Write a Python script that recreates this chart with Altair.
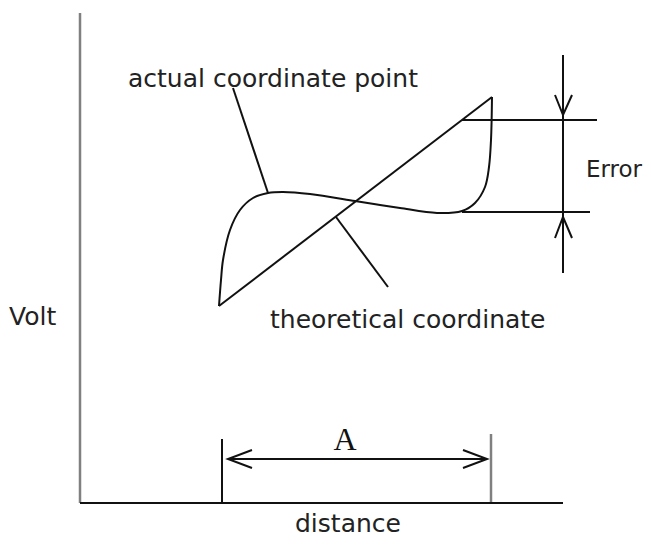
import altair as alt
import pandas as pd

# ---- data (diagram units: distance / volt) ----
# actual coordinate curve
curve_x = [13.9, 14.1, 14.3, 15.0, 16.0, 17.3, 18.8, 20.3, 23.0, 27.5, 30.0, 32.0, 35.7, 38.2, 39.5, 40.5, 40.9, 41.1, 41.2]
curve_y = [19.7, 22.3, 24.3, 27.3, 29.3, 30.5, 31.0, 31.1, 30.9, 30.2, 29.8, 29.5, 29.0, 29.2, 30.0, 31.6, 33.6, 36.3, 40.6]

# theoretical coordinate (straight line)
theory_x = [13.9, 41.2]
theory_y = [19.7, 40.6]

# black segments: x1, y1, x2, y2
seg_x1 = [0.0, 14.2, 14.8, 15.3, 25.6, 38.2, 38.2, 48.3]
seg_y1 = [0.0, 0.0, 4.4, 41.5, 28.6, 38.3, 29.1, 44.8]
seg_x2 = [48.3, 14.2, 40.7, 18.8, 30.8, 51.7, 51.0, 48.3]
seg_y2 = [0.0, 6.4, 4.4, 31.0, 21.6, 38.3, 29.1, 23.0]

# grey segments (volt axis, right tick)
grey_x1 = [0.0, 41.1]
grey_y1 = [0.0, 0.0]
grey_x2 = [0.0, 41.1]
grey_y2 = [49.0, 6.9]

# arrowheads: wing - apex - wing
head_id = [0, 0, 0, 1, 1, 1, 2, 2, 2, 3, 3, 3]
head_ord = [0, 1, 2] * 4
head_x = [17.2, 14.8, 17.2, 38.3, 40.7, 38.3, 47.5, 48.3, 49.2, 47.5, 48.3, 49.2]
head_y = [5.3, 4.4, 3.5, 5.3, 4.4, 3.5, 40.8, 38.8, 40.8, 26.5, 28.6, 26.5]

# labels
label_text = ["actual coordinate point", "theoretical coordinate", "Volt", "distance"]
label_x = [4.8, 19.0, -7.1, 21.5]
label_y = [41.6, 17.5, 17.8, -2.9]
err_label = ["Error"]
err_x = [50.6]
err_y = [32.6]
a_label = ["A"]
a_x = [26.5]
a_y = [5.3]

# ---- build ----
xs = alt.Scale(domain=[-7.2, 56.3], nice=False, zero=False)
ys = alt.Scale(domain=[-3.5, 49.5], nice=False, zero=False)

def X(f):
    return alt.X(f, type="quantitative", scale=xs, axis=None)

def Y(f):
    return alt.Y(f, type="quantitative", scale=ys, axis=None)

curve_df = pd.DataFrame({"x": curve_x, "y": curve_y, "o": list(range(len(curve_x)))})
theory_df = pd.DataFrame({"x": [theory_x[0]], "y": [theory_y[0]], "x2": [theory_x[1]], "y2": [theory_y[1]]})
seg_df = pd.DataFrame({"x": seg_x1, "y": seg_y1, "x2": seg_x2, "y2": seg_y2})
grey_df = pd.DataFrame({"x": grey_x1, "y": grey_y1, "x2": grey_x2, "y2": grey_y2})
head_df = pd.DataFrame({"id": head_id, "o": head_ord, "x": head_x, "y": head_y})
label_df = pd.DataFrame({"t": label_text, "x": label_x, "y": label_y})
err_df = pd.DataFrame({"t": err_label, "x": err_x, "y": err_y})
a_df = pd.DataFrame({"t": a_label, "x": a_x, "y": a_y})

curve = alt.Chart(curve_df).mark_line(color="#111", strokeWidth=2, interpolate="catmull-rom").encode(
    x=X("x"), y=Y("y"), order="o:Q")
theory = alt.Chart(theory_df).mark_rule(color="#111", strokeWidth=2).encode(
    x=X("x"), y=Y("y"), x2="x2", y2="y2")
segs = alt.Chart(seg_df).mark_rule(color="#111", strokeWidth=2).encode(
    x=X("x"), y=Y("y"), x2="x2", y2="y2")
greys = alt.Chart(grey_df).mark_rule(color="#808080", strokeWidth=2.5).encode(
    x=X("x"), y=Y("y"), x2="x2", y2="y2")
heads = alt.Chart(head_df).mark_line(color="#111", strokeWidth=2).encode(
    x=X("x"), y=Y("y"), detail="id:N", order="o:Q")
labels = alt.Chart(label_df).mark_text(
    font="DejaVu Sans", fontSize=25, align="left", baseline="alphabetic", color="#222").encode(
    x=X("x"), y=Y("y"), text="t:N")
errlabel = alt.Chart(err_df).mark_text(
    font="DejaVu Sans", fontSize=23, align="left", baseline="alphabetic", color="#222").encode(
    x=X("x"), y=Y("y"), text="t:N")
alabel = alt.Chart(a_df).mark_text(
    font="Liberation Serif", fontSize=32, align="center", baseline="alphabetic", color="#111").encode(
    x=X("x"), y=Y("y"), text="t:N")

chart = alt.layer(greys, segs, theory, curve, heads, labels, errlabel, alabel).properties(
    width=635, height=530, padding=0, autosize=alt.AutoSizeParams(type="none"),
    background="white",
).configure_view(stroke=None)

chart.save("out.html", embed_options={"renderer": "svg", "actions": False})
